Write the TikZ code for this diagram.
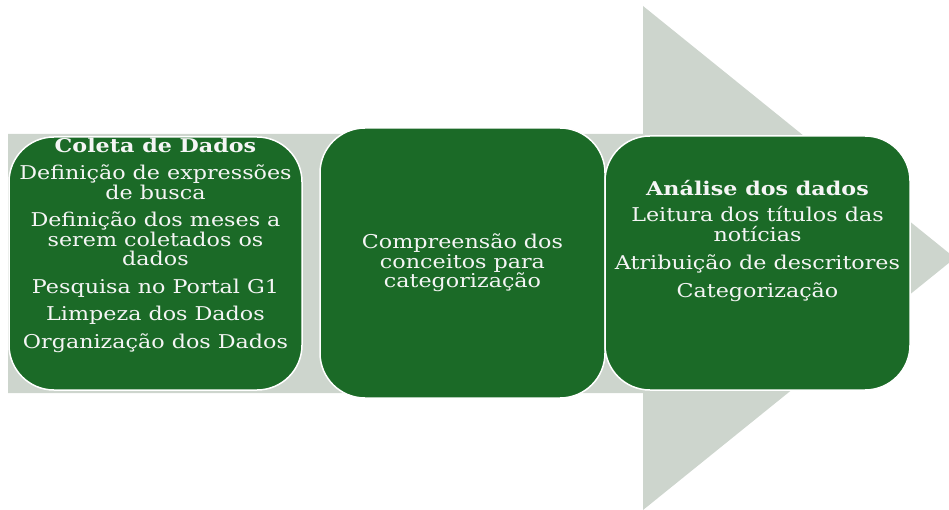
\documentclass[tikz,border=0pt]{standalone}
\usepackage{fontspec}
\setmainfont[FakeStretch=1.17]{DejaVu Serif}
\definecolor{stagegreen}{RGB}{27,106,39}
\definecolor{arrowgray}{RGB}{205,213,205}
\begin{document}
\begin{tikzpicture}[x=1pt,y=-1pt]
\tikzstyle{stage}=[draw=white, line width=1.5pt, fill=stagegreen, rounded corners=45pt, inner sep=0pt]
\tikzstyle{stagetext}=[text=white!96!black, align=center, inner sep=0pt, font=\fontsize{19}{19.5}\selectfont]
    \useasboundingbox (0,0) rectangle (949,510);
    \begin{scope}
    \clip (0,0) rectangle (949,510);
    \fill [arrowgray] (8,134) -- (643,134) -- (643,6) -- (955,258) -- (643,510) -- (643,393) -- (8,393) -- cycle;
    \end{scope}
    \node [stage, minimum width=293pt, minimum height=253pt] (coleta) at (155.5,263.5) {};
    \node [stage, minimum width=285pt, minimum height=270pt] (conceitos) at (462.5,263) {};
    \node [stage, minimum width=305pt, minimum height=254pt] (analise) at (757.5,263) {};
    \node [stagetext, anchor=north] (coletatxt) at (155.5,137.5) {\textbf{Coleta de Dados}\\[8pt]
        Definição de expressões\\de busca\\[8pt]
        Definição dos meses a\\serem coletados os\\dados\\[8pt]
        Pesquisa no Portal G1\\[8pt]
        Limpeza dos Dados\\[8pt]
        Organização dos Dados};
    \node [stagetext] (conceitostxt) at (462.5,263) {Compreensão dos\\conceitos para\\categorização};
    \node [stagetext, anchor=north] (analisetxt) at (757.5,180) {\textbf{Análise dos dados}\\[7pt]
        Leitura dos títulos das\\notícias\\[9pt]
        Atribuição de descritores\\[8pt]
        Categorização};
\end{tikzpicture}
\end{document}
